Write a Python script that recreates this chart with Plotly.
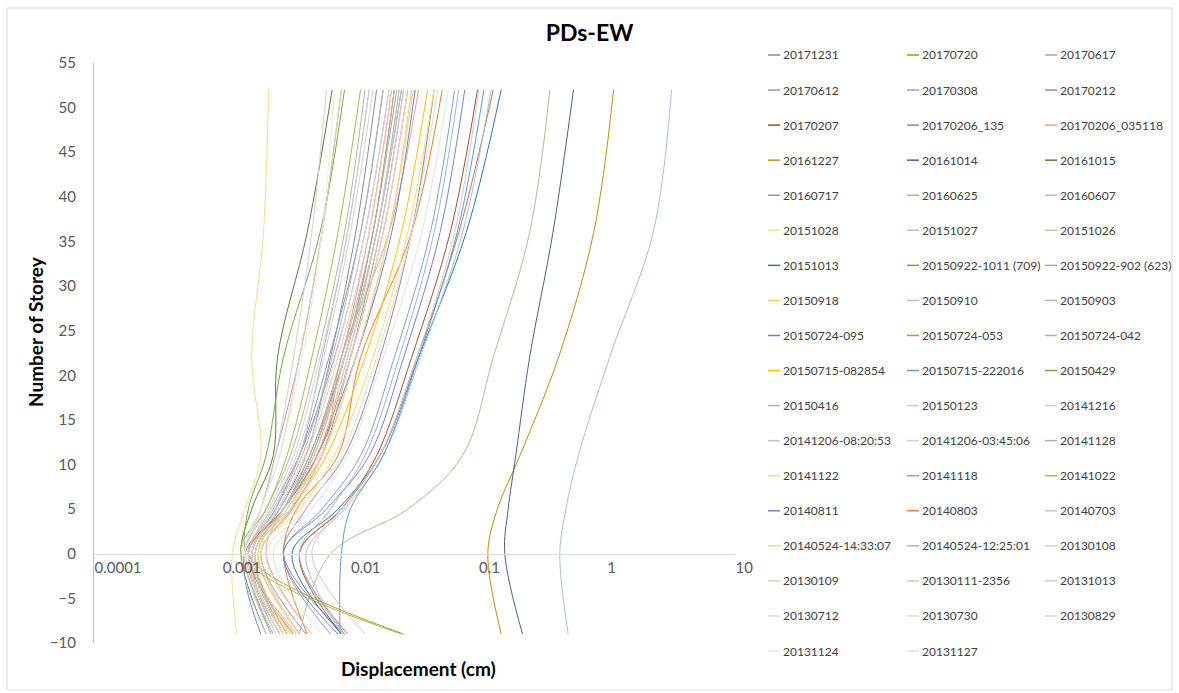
import plotly.graph_objects as go

# Storey levels where displacement was recorded
storeys = [-9, 0, 5, 11, 22, 36, 52]

# Event names (legend order)
series_names = [
    "20171231", "20170720", "20170617",
    "20170612", "20170308", "20170212",
    "20170207", "20170206_135", "20170206_035118",
    "20161227", "20161014", "20161015",
    "20160717", "20160625", "20160607",
    "20151028", "20151027", "20151026",
    "20151013", "20150922-1011 (709)", "20150922-902 (623)",
    "20150918", "20150910", "20150903",
    "20150724-095", "20150724-053", "20150724-042",
    "20150715-082854", "20150715-222016", "20150429",
    "20150416", "20150123", "20141216",
    "20141206-08:20:53", "20141206-03:45:06", "20141128",
    "20141122", "20141118", "20141022",
    "20140811", "20140803", "20140703",
    "20140524-14:33:07", "20140524-12:25:01", "20130108",
    "20130109", "20130111-2356", "20131013",
    "20130712", "20130730", "20130829",
    "20131124", "20131127",
]

series_colors = [
    "#8c8c8c", "#bf9000", "#a5a5a5",
    "#9a9a9a", "#a0a0a0", "#8e8e8e",
    "#a0522d", "#7f8fb0", "#f4a070",
    "#b59a1a", "#44648c", "#548235",
    "#8497c6", "#e0a878", "#b8b8b8",
    "#ffd98a", "#9dc3e6", "#c5c59a",
    "#2e75b6", "#d9703a", "#a9a9a9",
    "#ffd050", "#9dc3e6", "#a9c48a",
    "#5b8bd0", "#ed7d31", "#b4b4b4",
    "#ffc000", "#5b9bd5", "#70ad47",
    "#b4b4b4", "#f4c2b8", "#d0d0d0",
    "#c0c0c0", "#f2c4bc", "#b0b0b0",
    "#ffd966", "#7ca4d4", "#a9b84e",
    "#7f7fd0", "#f07f3c", "#c8c8c8",
    "#f8cba0", "#a0b4d0", "#d0d0d0",
    "#f8cba0", "#c8cad8", "#d0d0d0",
    "#d8d8e0", "#dcdce4", "#d8d8d8",
    "#e8e8e8", "#e0e4e8",
]

# Peak displacement (cm) at each storey level, one row per event
displacement = [
    [0.0030, 0.0017, 0.0028, 0.0045, 0.0070, 0.0110, 0.0160],
    [0.1500, 0.1180, 0.1400, 0.2100, 0.4200, 0.7900, 1.1300],
    [0.0024, 0.0015, 0.0020, 0.0026, 0.0040, 0.0060, 0.0085],
    [0.0045, 0.0020, 0.0035, 0.0060, 0.0100, 0.0170, 0.0260],
    [0.0028, 0.0016, 0.0024, 0.0040, 0.0075, 0.0130, 0.0200],
    [0.0090, 0.0030, 0.0045, 0.0090, 0.0170, 0.0300, 0.0450],
    [0.0085, 0.0040, 0.0085, 0.0160, 0.0300, 0.0600, 0.0980],
    [0.0032, 0.0018, 0.0030, 0.0048, 0.0090, 0.0160, 0.0250],
    [0.0038, 0.0016, 0.0030, 0.0050, 0.0085, 0.0140, 0.0210],
    [0.0260, 0.0016, 0.0030, 0.0050, 0.0090, 0.0150, 0.0220],
    [0.2200, 0.1600, 0.1700, 0.1950, 0.2500, 0.3800, 0.5500],
    [0.0022, 0.0014, 0.0017, 0.0025, 0.0027, 0.0046, 0.0072],
    [0.0030, 0.0017, 0.0026, 0.0040, 0.0068, 0.0120, 0.0180],
    [0.0050, 0.0022, 0.0030, 0.0060, 0.0085, 0.0200, 0.0340],
    [0.0026, 0.0016, 0.0025, 0.0040, 0.0060, 0.0095, 0.0140],
    [0.0013, 0.0012, 0.0015, 0.0020, 0.0017, 0.0021, 0.0023],
    [0.5000, 0.4300, 0.4800, 0.6000, 1.0500, 2.3000, 3.2000],
    [0.0040, 0.0019, 0.0032, 0.0055, 0.0095, 0.0160, 0.0240],
    [0.0085, 0.0035, 0.0080, 0.0170, 0.0340, 0.0800, 0.1500],
    [0.0095, 0.0040, 0.0085, 0.0170, 0.0330, 0.0700, 0.1300],
    [0.0030, 0.0018, 0.0030, 0.0052, 0.0090, 0.0150, 0.0230],
    [0.0035, 0.0017, 0.0032, 0.0060, 0.0110, 0.0200, 0.0300],
    [0.0090, 0.0045, 0.0090, 0.0180, 0.0350, 0.0750, 0.1250],
    [0.0040, 0.0070, 0.0280, 0.0750, 0.1300, 0.2500, 0.3600],
    [0.0020, 0.0015, 0.0030, 0.0055, 0.0110, 0.0210, 0.0320],
    [0.0046, 0.0030, 0.0038, 0.0080, 0.0120, 0.0300, 0.0520],
    [0.0028, 0.0016, 0.0026, 0.0042, 0.0072, 0.0120, 0.0180],
    [0.0032, 0.0018, 0.0034, 0.0065, 0.0130, 0.0250, 0.0400],
    [0.0083, 0.0085, 0.0100, 0.0180, 0.0340, 0.0680, 0.1100],
    [0.0024, 0.0015, 0.0016, 0.0022, 0.0030, 0.0058, 0.0090],
    [0.0025, 0.0015, 0.0022, 0.0034, 0.0055, 0.0090, 0.0130],
    [0.0030, 0.0016, 0.0027, 0.0045, 0.0080, 0.0140, 0.0210],
    [0.0022, 0.0014, 0.0020, 0.0026, 0.0036, 0.0050, 0.0065],
    [0.0030, 0.0018, 0.0030, 0.0050, 0.0090, 0.0160, 0.0240],
    [0.0040, 0.0020, 0.0034, 0.0055, 0.0095, 0.0170, 0.0260],
    [0.0026, 0.0017, 0.0028, 0.0048, 0.0085, 0.0150, 0.0220],
    [0.0040, 0.0019, 0.0040, 0.0075, 0.0150, 0.0280, 0.0450],
    [0.0070, 0.0030, 0.0060, 0.0120, 0.0220, 0.0420, 0.0650],
    [0.0250, 0.0014, 0.0022, 0.0032, 0.0050, 0.0080, 0.0120],
    [0.0080, 0.0030, 0.0065, 0.0140, 0.0260, 0.0500, 0.0780],
    [0.0036, 0.0016, 0.0030, 0.0055, 0.0100, 0.0180, 0.0280],
    [0.0034, 0.0017, 0.0030, 0.0052, 0.0090, 0.0160, 0.0250],
    [0.0030, 0.0015, 0.0020, 0.0028, 0.0040, 0.0060, 0.0085],
    [0.0090, 0.0040, 0.0070, 0.0130, 0.0240, 0.0450, 0.0700],
    [0.0028, 0.0016, 0.0024, 0.0038, 0.0062, 0.0100, 0.0150],
    [0.0040, 0.0020, 0.0036, 0.0060, 0.0110, 0.0200, 0.0310],
    [0.0130, 0.0050, 0.0085, 0.0170, 0.0330, 0.0650, 0.1000],
    [0.0024, 0.0015, 0.0023, 0.0036, 0.0058, 0.0095, 0.0140],
    [0.0034, 0.0018, 0.0032, 0.0058, 0.0100, 0.0180, 0.0280],
    [0.0050, 0.0022, 0.0045, 0.0085, 0.0160, 0.0300, 0.0480],
    [0.0030, 0.0017, 0.0027, 0.0044, 0.0076, 0.0130, 0.0200],
    [0.0026, 0.0015, 0.0020, 0.0028, 0.0042, 0.0060, 0.0075],
    [0.0060, 0.0025, 0.0050, 0.0095, 0.0180, 0.0360, 0.0580],
]

x_tickvals = [0.0001, 0.001, 0.01, 0.1, 1, 10]
x_ticktext = ["0.0001", "0.001", "0.01", "0.1", "1", "10"]

# Figure geometry (pixels)
W, H = 1179, 693
ML, MR, MT, MB = 94, 444, 63, 50
PW = W - ML - MR
PH = H - MT - MB


def paper_x(px):
    return (px - ML) / PW


def paper_y(py):
    return (H - MB - py) / PH


FONT = "Lato, Carlito, Calibri, sans-serif"

fig = go.Figure()
for name, color, vals in zip(series_names, series_colors, displacement):
    fig.add_trace(go.Scatter(
        x=vals, y=storeys, mode="lines", name=name,
        line=dict(color=color, width=1, shape="spline", smoothing=1),
        showlegend=False,
    ))

# Three-column legend drawn beside the plot
shapes = []
annotations = []
col_x = [768, 907, 1045]
for i, (name, color) in enumerate(zip(series_names, series_colors)):
    row, col = divmod(i, 3)
    yy = 55 + 35.06 * row
    x0 = col_x[col]
    shapes.append(dict(
        type="line", xref="paper", yref="paper",
        x0=paper_x(x0), x1=paper_x(x0 + 12), y0=paper_y(yy), y1=paper_y(yy),
        line=dict(color=color, width=1.5),
    ))
    annotations.append(dict(
        text=name, xref="paper", yref="paper",
        x=paper_x(x0 + 13), y=paper_y(yy), xanchor="left", yanchor="middle",
        showarrow=False, font=dict(size=12, color="#404040", family=FONT),
    ))

# Chart frame
shapes.append(dict(
    type="rect", xref="paper", yref="paper",
    x0=paper_x(7), x1=paper_x(1172), y0=paper_y(690), y1=paper_y(8),
    line=dict(color="#d9d9d9", width=1), fillcolor="rgba(0,0,0,0)", layer="below",
))

# Axis titles
annotations.append(dict(
    text="<b>Number of Storey</b>", xref="paper", yref="paper",
    x=paper_x(35), y=paper_y(332), textangle=-90, showarrow=False,
    xanchor="center", yanchor="middle",
    font=dict(size=19, color="#000000", family=FONT),
))
annotations.append(dict(
    text="<b>Displacement (cm)</b>", xref="paper", yref="paper",
    x=paper_x(418), y=paper_y(668), showarrow=False,
    xanchor="center", yanchor="middle",
    font=dict(size=19, color="#000000", family=FONT),
))

fig.update_layout(
    width=W, height=H,
    margin=dict(l=ML, r=MR, t=MT, b=MB),
    paper_bgcolor="white", plot_bgcolor="white",
    font=dict(family=FONT, color="#595959"),
    title=dict(
        text="<b>PDs-EW</b>", x=0.5, xref="container", xanchor="center",
        y=1 - 33 / H, yref="container", yanchor="middle",
        font=dict(size=23, color="#000000", family=FONT),
    ),
    xaxis=dict(
        type="log", range=[-4, 1],
        tickvals=x_tickvals, ticktext=x_ticktext,
        showline=True, linecolor="#d9d9d9", linewidth=1,
        showgrid=False, zeroline=False, ticks="",
        anchor="free", position=10 / 65,
        ticklabelposition="outside right",
        tickfont=dict(size=15, color="#595959"),
    ),
    yaxis=dict(
        range=[-10, 55], tick0=0, dtick=5,
        showline=True, linecolor="#bfbfbf", linewidth=1,
        showgrid=False, zeroline=False, ticks="",
        ticklabelstandoff=14,
        tickfont=dict(size=15, color="#595959"),
    ),
    shapes=shapes,
    annotations=annotations,
    showlegend=False,
)

fig.write_html("out.html")
